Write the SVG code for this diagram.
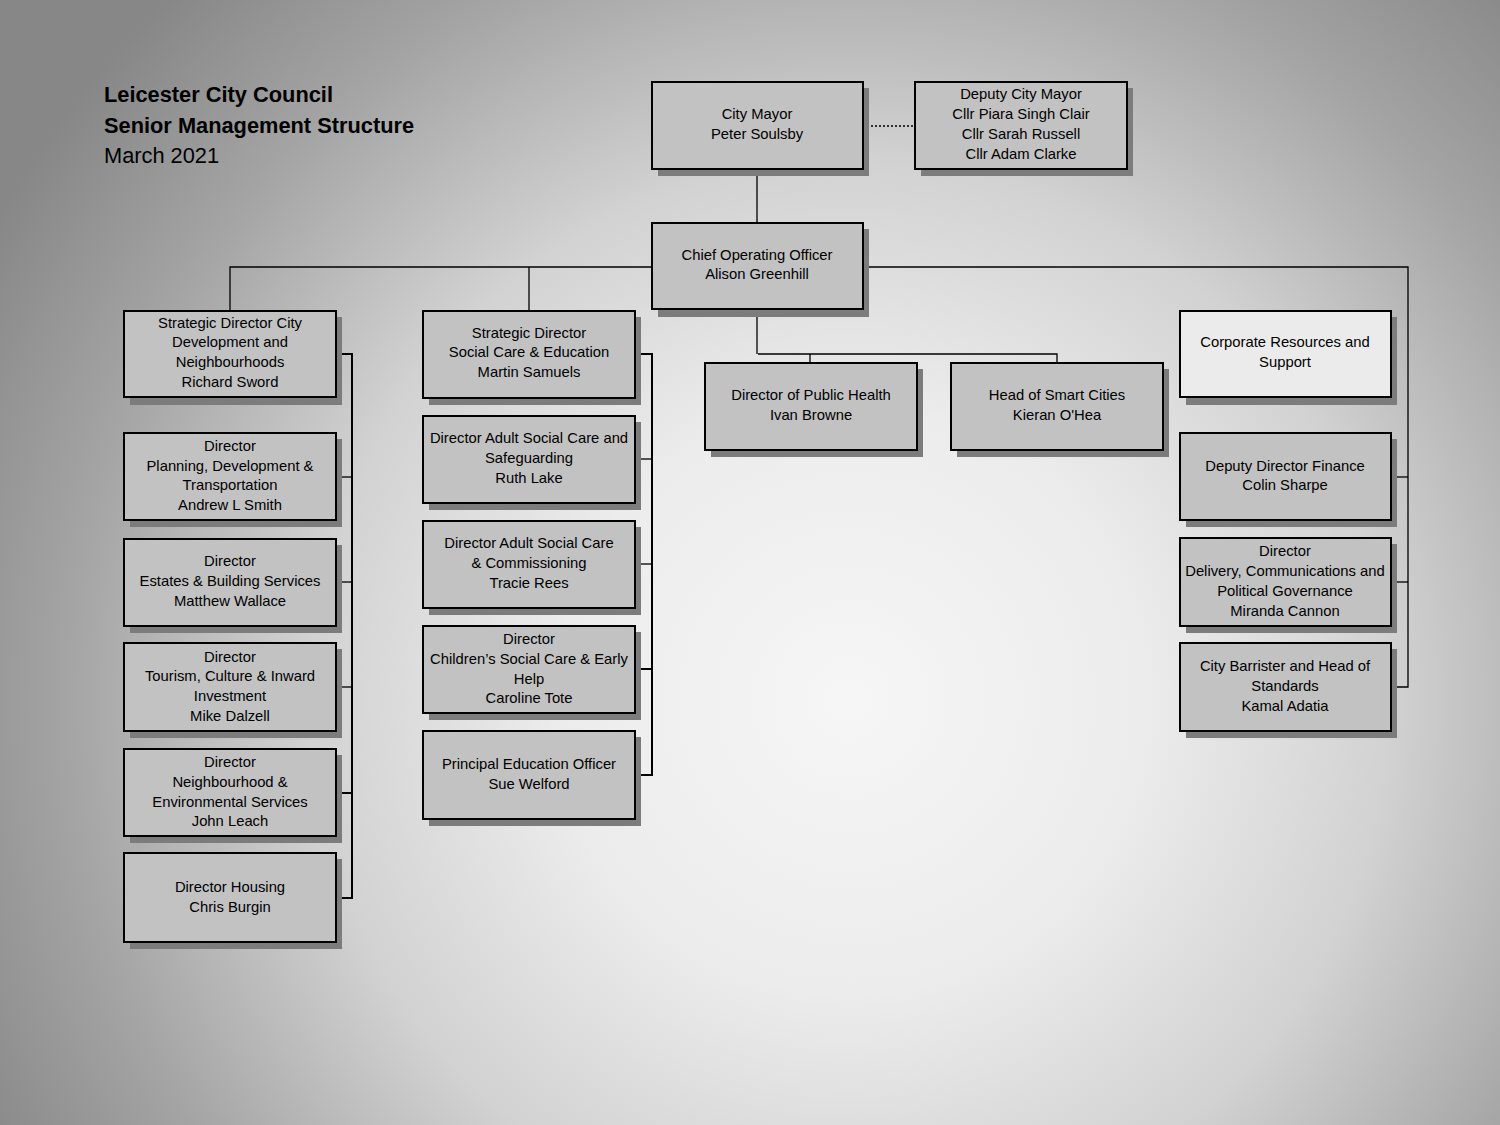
<svg xmlns="http://www.w3.org/2000/svg" width="1500" height="1125" viewBox="0 0 1500 1125">
<style>
.box{fill:#c2c2c2;stroke:#000;stroke-width:2}
.light{fill:#ebebeb}
.sh{fill:#7c7c7c}
.t{font-family:"Liberation Sans",Arial,sans-serif;font-size:14.8px;fill:#000;text-anchor:middle}
.ttl{font-family:"Liberation Sans",Arial,sans-serif;font-size:21.8px;fill:#000}
.c{stroke:#000;stroke-width:1.3;fill:none}
.cb{stroke:#000;stroke-width:2;fill:none}
</style>
<defs>
<radialGradient id="bg" cx="850" cy="700" r="980" gradientUnits="userSpaceOnUse">
<stop offset="0" stop-color="#f6f6f6"/>
<stop offset="0.3" stop-color="#ececec"/>
<stop offset="0.55" stop-color="#d2d2d2"/>
<stop offset="0.8" stop-color="#a4a4a4"/>
<stop offset="1" stop-color="#878787"/>
</radialGradient>
</defs>
<rect x="0" y="0" width="1500" height="1125" fill="url(#bg)"/>

<g id="title">
<text class="ttl" x="104" y="102" font-weight="bold">Leicester City Council</text>
<text class="ttl" x="104" y="133" font-weight="bold">Senior Management Structure</text>
<text class="ttl" x="104" y="163">March 2021</text>
</g>

<g id="connectors">
<line class="c" x1="863" y1="126" x2="915" y2="126" stroke-dasharray="2,2"/>
<line class="c" x1="757" y1="169" x2="757" y2="223"/>
<line class="c" x1="757" y1="309" x2="757" y2="354"/>
<polyline class="c" points="758,354 1057,354 1057,363"/>
<line class="c" x1="810" y1="354" x2="810" y2="363"/>
<polyline class="c" points="652,267 230,267 230,311"/>
<line class="c" x1="529" y1="267" x2="529" y2="311"/>
<polyline class="c" points="863,267 1408,267 1408,687 1391,687"/>
<line class="c" x1="1391" y1="477" x2="1408" y2="477"/>
<line class="c" x1="1391" y1="582" x2="1408" y2="582"/>
<polyline class="cb" points="336,354 352,354 352,898 336,898"/>
<line class="c" x1="336" y1="477" x2="352" y2="477"/>
<line class="c" x1="336" y1="582" x2="352" y2="582"/>
<line class="c" x1="336" y1="687" x2="352" y2="687"/>
<line class="cb" x1="336" y1="793" x2="352" y2="793"/>
<polyline class="cb" points="635,354 652,354 652,775 635,775"/>
<line class="c" x1="635" y1="459" x2="652" y2="459"/>
<line class="c" x1="635" y1="564" x2="652" y2="564"/>
<line class="cb" x1="635" y1="669" x2="652" y2="669"/>
</g>

<g id="city-mayor">
<rect class="sh" x="658" y="88" width="211" height="88"/>
<rect class="box" x="652" y="82" width="211" height="87"/>
<text class="t" x="757" y="119">City Mayor</text>
<text class="t" x="757" y="139">Peter Soulsby</text>
</g>
<g id="deputy-mayor">
<rect class="sh" x="921" y="88" width="212" height="88"/>
<rect class="box" x="915" y="82" width="212" height="87"/>
<text class="t" x="1021" y="99">Deputy City Mayor</text>
<text class="t" x="1021" y="119">Cllr Piara Singh Clair</text>
<text class="t" x="1021" y="139">Cllr Sarah Russell</text>
<text class="t" x="1021" y="159">Cllr Adam Clarke</text>
</g>
<g id="coo">
<rect class="sh" x="658" y="229" width="211" height="88"/>
<rect class="box" x="652" y="223" width="211" height="86"/>
<text class="t" x="757" y="260">Chief Operating Officer</text>
<text class="t" x="757" y="279">Alison Greenhill</text>
</g>

<g id="public-health">
<rect class="sh" x="711" y="369" width="212" height="88"/>
<rect class="box" x="705" y="363" width="212" height="87"/>
<text class="t" x="811" y="400">Director of Public Health</text>
<text class="t" x="811" y="420">Ivan Browne</text>
</g>
<g id="smart-cities">
<rect class="sh" x="957" y="369" width="212" height="88"/>
<rect class="box" x="951" y="363" width="212" height="87"/>
<text class="t" x="1057" y="400">Head of Smart Cities</text>
<text class="t" x="1057" y="420">Kieran O'Hea</text>
</g>

<g id="sd-city">
<rect class="sh" x="130" y="317" width="212" height="88"/>
<rect class="box" x="124" y="311" width="212" height="86"/>
<text class="t" x="230" y="328">Strategic Director City</text>
<text class="t" x="230" y="347">Development and</text>
<text class="t" x="230" y="367">Neighbourhoods</text>
<text class="t" x="230" y="387">Richard Sword</text>
</g>
<g id="planning">
<rect class="sh" x="130" y="439" width="212" height="88"/>
<rect class="box" x="124" y="433" width="212" height="87"/>
<text class="t" x="230" y="451">Director</text>
<text class="t" x="230" y="471">Planning, Development &amp;</text>
<text class="t" x="230" y="490">Transportation</text>
<text class="t" x="230" y="510">Andrew L Smith</text>
</g>
<g id="estates">
<rect class="sh" x="130" y="545" width="212" height="88"/>
<rect class="box" x="124" y="539" width="212" height="87"/>
<text class="t" x="230" y="566">Director</text>
<text class="t" x="230" y="586">Estates &amp; Building Services</text>
<text class="t" x="230" y="606">Matthew Wallace</text>
</g>
<g id="tourism">
<rect class="sh" x="130" y="649" width="212" height="89"/>
<rect class="box" x="124" y="643" width="212" height="88"/>
<text class="t" x="230" y="662">Director</text>
<text class="t" x="230" y="681">Tourism, Culture &amp; Inward</text>
<text class="t" x="230" y="701">Investment</text>
<text class="t" x="230" y="721">Mike Dalzell</text>
</g>
<g id="neighbourhood">
<rect class="sh" x="130" y="755" width="212" height="88"/>
<rect class="box" x="124" y="749" width="212" height="87"/>
<text class="t" x="230" y="767">Director</text>
<text class="t" x="230" y="787">Neighbourhood &amp;</text>
<text class="t" x="230" y="807">Environmental Services</text>
<text class="t" x="230" y="826">John Leach</text>
</g>
<g id="housing">
<rect class="sh" x="130" y="859" width="212" height="90"/>
<rect class="box" x="124" y="853" width="212" height="89"/>
<text class="t" x="230" y="892">Director Housing</text>
<text class="t" x="230" y="912">Chris Burgin</text>
</g>

<g id="sd-social">
<rect class="sh" x="429" y="317" width="212" height="88"/>
<rect class="box" x="423" y="311" width="212" height="87"/>
<text class="t" x="529" y="338">Strategic Director</text>
<text class="t" x="529" y="357">Social Care &amp; Education</text>
<text class="t" x="529" y="377">Martin Samuels</text>
</g>
<g id="adult-safeguarding">
<rect class="sh" x="429" y="422" width="212" height="88"/>
<rect class="box" x="423" y="416" width="212" height="87"/>
<text class="t" x="529" y="443">Director Adult Social Care and</text>
<text class="t" x="529" y="463">Safeguarding</text>
<text class="t" x="529" y="483">Ruth Lake</text>
</g>
<g id="adult-commissioning">
<rect class="sh" x="429" y="527" width="212" height="88"/>
<rect class="box" x="423" y="521" width="212" height="87"/>
<text class="t" x="529" y="548">Director Adult Social Care</text>
<text class="t" x="529" y="568">&amp; Commissioning</text>
<text class="t" x="529" y="588">Tracie Rees</text>
</g>
<g id="childrens">
<rect class="sh" x="429" y="632" width="212" height="88"/>
<rect class="box" x="423" y="626" width="212" height="87"/>
<text class="t" x="529" y="644">Director</text>
<text class="t" x="529" y="664">Children’s Social Care &amp; Early</text>
<text class="t" x="529" y="684">Help</text>
<text class="t" x="529" y="703">Caroline Tote</text>
</g>
<g id="education">
<rect class="sh" x="429" y="737" width="212" height="89"/>
<rect class="box" x="423" y="731" width="212" height="88"/>
<text class="t" x="529" y="769">Principal Education Officer</text>
<text class="t" x="529" y="789">Sue Welford</text>
</g>

<g id="corporate">
<rect class="sh" x="1186" y="317" width="211" height="88"/>
<rect class="box light" x="1180" y="311" width="211" height="86"/>
<text class="t" x="1285" y="347">Corporate Resources and</text>
<text class="t" x="1285" y="367">Support</text>
</g>
<g id="finance">
<rect class="sh" x="1186" y="439" width="211" height="88"/>
<rect class="box" x="1180" y="433" width="211" height="87"/>
<text class="t" x="1285" y="471">Deputy Director Finance</text>
<text class="t" x="1285" y="490">Colin Sharpe</text>
</g>
<g id="delivery">
<rect class="sh" x="1186" y="544" width="211" height="89"/>
<rect class="box" x="1180" y="538" width="211" height="88"/>
<text class="t" x="1285" y="556">Director</text>
<text class="t" x="1285" y="576">Delivery, Communications and</text>
<text class="t" x="1285" y="596">Political Governance</text>
<text class="t" x="1285" y="616">Miranda Cannon</text>
</g>
<g id="barrister">
<rect class="sh" x="1186" y="649" width="211" height="89"/>
<rect class="box" x="1180" y="643" width="211" height="88"/>
<text class="t" x="1285" y="671">City Barrister and Head of</text>
<text class="t" x="1285" y="691">Standards</text>
<text class="t" x="1285" y="711">Kamal Adatia</text>
</g>
</svg>
